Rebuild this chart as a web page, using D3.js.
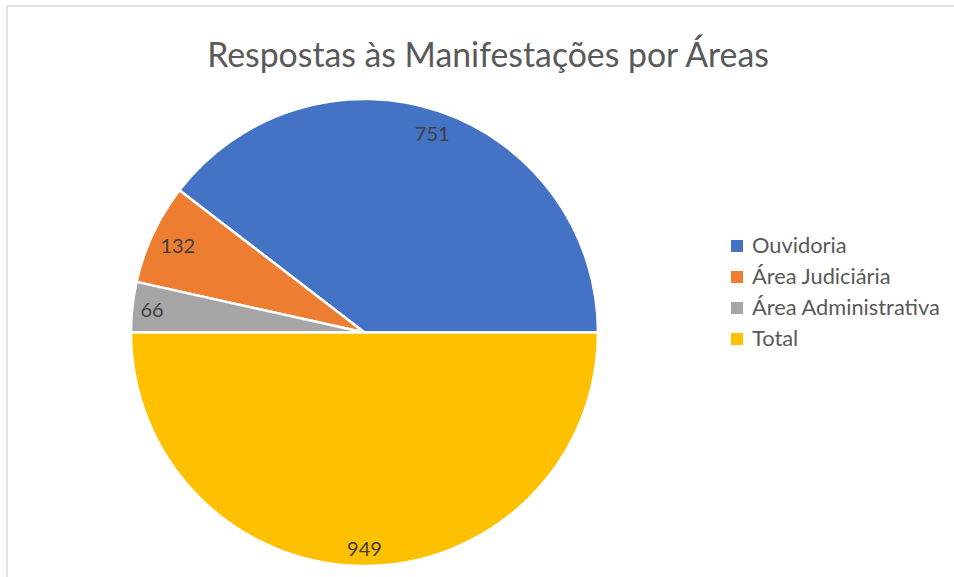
<!DOCTYPE html>
<html><head><meta charset="utf-8">
<script src="https://cdn.jsdelivr.net/npm/d3@7"></script>
<style>
html,body{margin:0;padding:0;background:#fff;}
svg{display:block;}
</style></head>
<body>
<svg id="chart" width="954" height="577"></svg>
<script>
const categories = ["Ouvidoria", "Área Judiciária", "Área Administrativa", "Total"];
const values = [751, 132, 66, 949];
const colors = ["#4472C4", "#ED7D31", "#A5A5A5", "#FFC000"];
const title = "Respostas às Manifestações por Áreas";

const svg = d3.select("#chart");
const W = 954, H = 577;
const FONT = "Lato, 'Open Sans', sans-serif";

// chart area border (only top and left visible)
svg.append("rect").attr("x", 7).attr("y", 6).attr("width", 1000).attr("height", 700)
  .attr("fill", "none").attr("stroke", "#d9d9d9").attr("stroke-width", 1.5);

function fitText(sel, target) {
  const len = sel.node().getComputedTextLength();
  const fs = parseFloat(sel.attr("font-size"));
  sel.attr("font-size", fs * target / len);
}

// title
const t = svg.append("text").attr("x", 488).attr("y", 67).attr("text-anchor", "middle")
  .attr("font-family", FONT).attr("font-size", 28).attr("fill", "#595959").text(title);
fitText(t, 562);

const cx = 364.5, cy = 332.5, R = 233.5;
const g = svg.append("g").attr("transform", `translate(${cx},${cy})`);

const pie = d3.pie().sort(null).value(d => d)
  .startAngle(Math.PI / 2).endAngle(Math.PI / 2 - 2 * Math.PI);
const arcs = pie(values);
const arc = d3.arc().innerRadius(0).outerRadius(R);

g.selectAll("path.slice").data(arcs).enter().append("path")
  .attr("class", "slice")
  .attr("d", arc)
  .attr("fill", (d, i) => colors[i])
  .attr("stroke", "#fff").attr("stroke-width", 2.5).attr("stroke-linejoin", "round");

// data labels (inside end)
const labelFs = 20;
arcs.forEach((d, i) => {
  const lab = g.append("text").attr("font-family", FONT).attr("font-size", labelFs)
    .attr("fill", "#404040").attr("text-anchor", "middle").attr("dominant-baseline", "central")
    .text(values[i]);
  const bb = lab.node().getBBox();
  const hw = bb.width / 2, hh = 11;
  const m = (d.startAngle + d.endAngle) / 2;
  const s = Math.sin(m), c = Math.cos(m);
  const rl = R - 7 - (hw * Math.abs(s) + hh * Math.abs(c));
  lab.attr("x", rl * s).attr("y", -rl * c);
});

// legend
const lg = svg.append("g");
const rowY = [246, 277, 308, 339];
categories.forEach((c, i) => {
  lg.append("rect").attr("x", 731).attr("y", rowY[i] - 6).attr("width", 12).attr("height", 12)
    .attr("fill", colors[i]);
  lg.append("text").attr("class", "lt").attr("x", 752).attr("y", rowY[i] + 6.5)
    .attr("font-family", FONT).attr("font-size", 19).attr("fill", "#595959").text(c);
});
// fit legend font size to reference width of the longest entry
const longest = lg.selectAll("text.lt").filter((d, i) => i === 2);
const len = longest.node().getComputedTextLength();
const fsL = 19 * 188 / len;
lg.selectAll("text.lt").attr("font-size", fsL);
</script>
</body></html>
